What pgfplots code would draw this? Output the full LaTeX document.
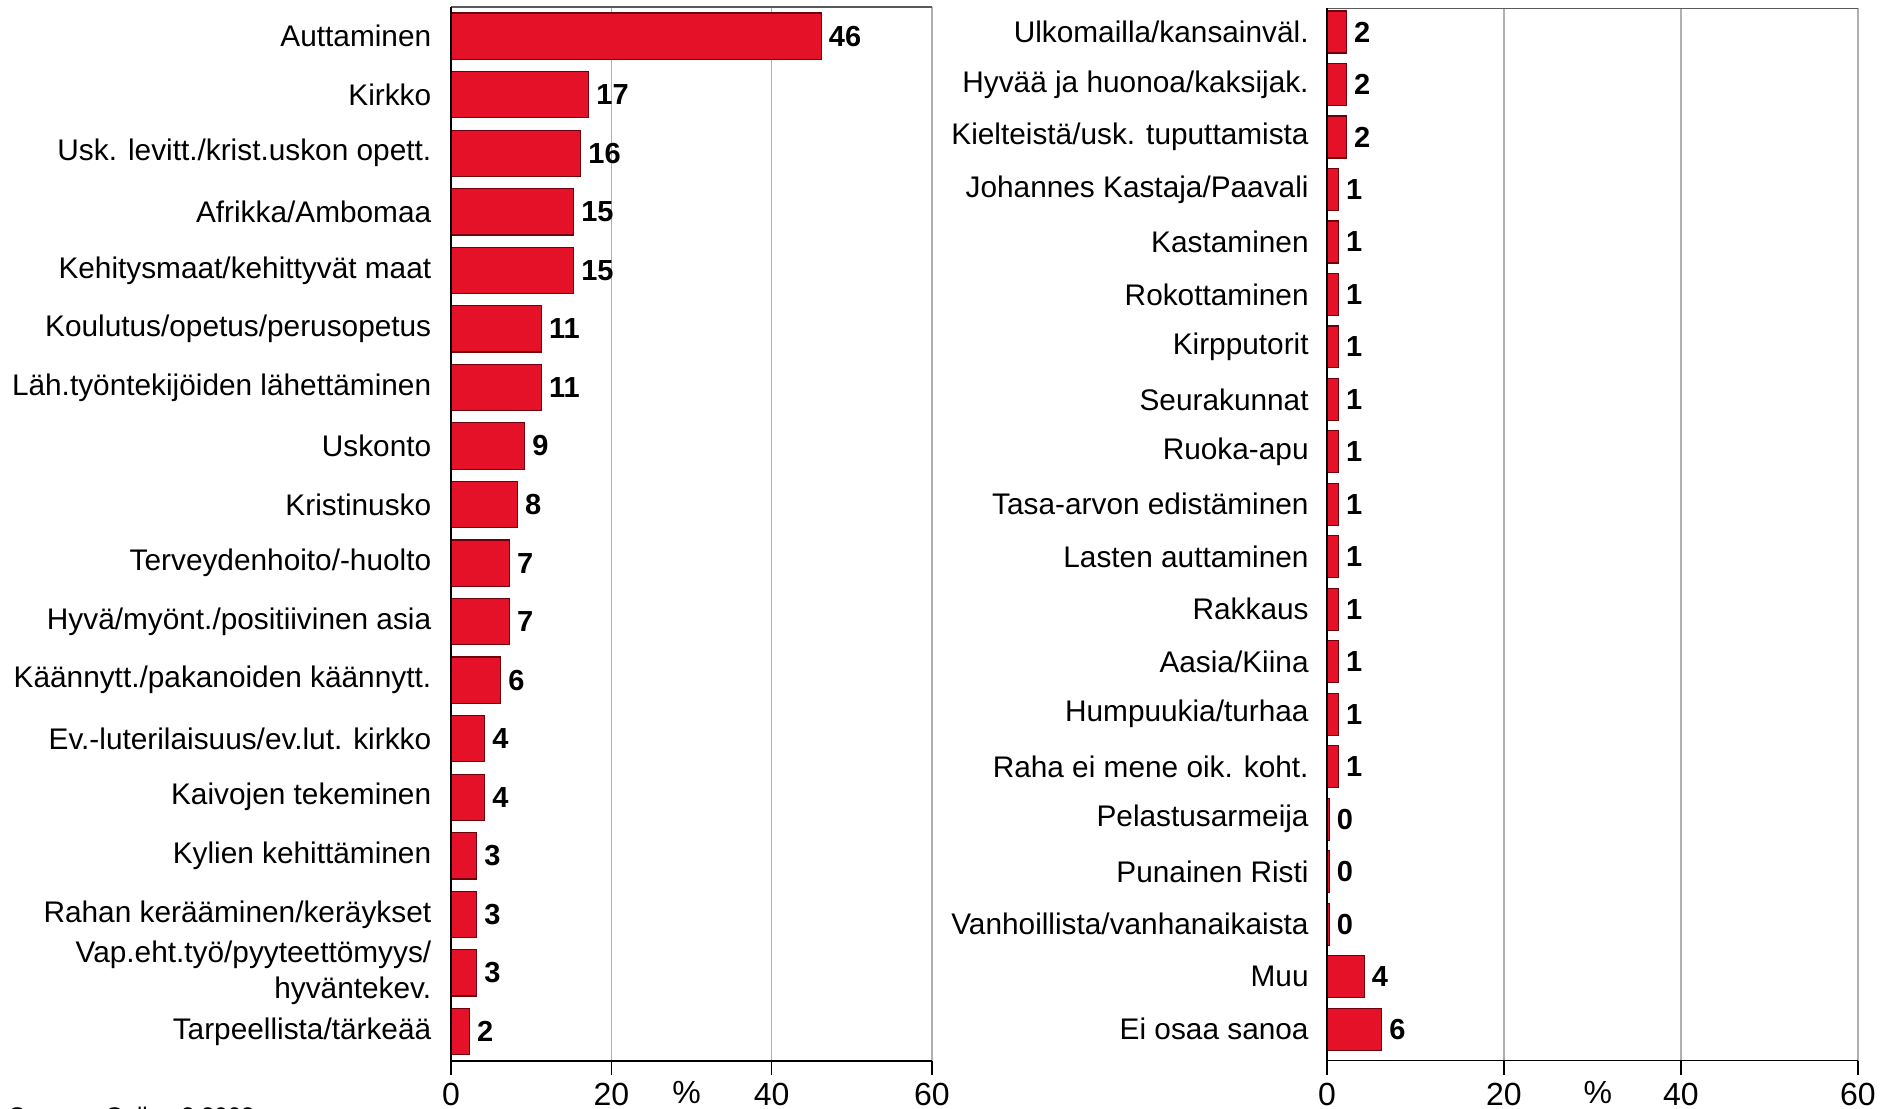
\documentclass[border=0pt]{standalone}
\usepackage{fontspec}
\setmainfont{Liberation Sans}
\usepackage{pgfplots}
\usepackage{pgfplotstable}
\pgfplotsset{compat=1.18}
\definecolor{barred}{RGB}{228,17,40}
\definecolor{bardark}{RGB}{110,0,12}
\definecolor{gridgray}{RGB}{175,175,175}
\definecolor{topgray}{RGB}{90,90,90}

\pgfplotstableread{
y x lab
0 46.2 46
1 17.2 17
2 16.2 16
3 15.3 15
4 15.3 15
5 11.3 11
6 11.3 11
7 9.2 9
8 8.3 8
9 7.3 7
10 7.3 7
11 6.2 6
12 4.2 4
13 4.2 4
14 3.2 3
15 3.2 3
16 3.2 3
17 2.3 2
}\lefttab

\pgfplotstableread{
y x lab
0 2.2 2
1 2.2 2
2 2.2 2
3 1.3 1
4 1.3 1
5 1.3 1
6 1.3 1
7 1.3 1
8 1.3 1
9 1.3 1
10 1.3 1
11 1.3 1
12 1.3 1
13 1.3 1
14 1.3 1
15 0.25 0
16 0.25 0
17 0.25 0
18 4.2 4
19 6.2 6
}\righttab

\pgfplotsset{
 mybars/.style={
  xbar, scale only axis, y dir=reverse,
  xmin=0, xmax=60, xtick={0,20,40,60},
  axis line style={draw=none},
  xmajorgrids, grid style={gridgray, line width=0.8pt},
  tick align=outside, xtick pos=lower, major tick length=7pt,
  xtick style={black, line width=0.8pt},
  ytick=data, ytick style={draw=none},
  yticklabel style={font=\fontsize{14.9}{17.8}\selectfont, align=right, inner sep=0pt},
  xticklabel style={font=\fontsize{16}{18}\selectfont, yshift=-0.7pt},
  /pgf/number format/assume math mode=true,
  nodes near coords={\pgfplotspointmeta}, point meta=explicit symbolic,
  nodes near coords style={font=\bfseries\fontsize{14.5}{17}\selectfont, anchor=west, inner sep=0pt, xshift=3.5pt, black},
  clip=false,
  xlabel={\%},
  xlabel style={font=\fontsize{16}{18}\selectfont, anchor=north, yshift=-6.8pt},
 }
}

\begin{document}
\begin{tikzpicture}
\begin{axis}[mybars,
  at={(225.5pt,24.15pt)}, anchor=south west,
  width=240.5pt, height=526.9pt,
  ymin=-0.5, ymax=17.5, bar width=0.79,
  yticklabel style={xshift=-2.7pt},
  xlabel style={at={(axis description cs:0.49,0)}},
  yticklabels={Auttaminen, Kirkko, {Usk. levitt./krist.uskon opett.}, Afrikka/Ambomaa, Kehitysmaat/kehittyvät maat, Koulutus/opetus/perusopetus, Läh.työntekijöiden lähettäminen, Uskonto, Kristinusko, Terveydenhoito/-huolto, Hyvä/myönt./positiivinen asia, Käännytt./pakanoiden käännytt., {Ev.-luterilaisuus/ev.lut. kirkko}, Kaivojen tekeminen, Kylien kehittäminen, Rahan kerääminen/keräykset, {Vap.eht.työ/pyyteettömyys/\\hyväntekev.}, Tarpeellista/tärkeää},
]
\addplot[fill=barred, draw=bardark, line width=0.6pt] table[x=x, y=y, meta=lab] {\lefttab};
\draw[topgray, line width=0.8pt] (axis description cs:0,1) -- (axis description cs:1,1);
\draw[black, line width=0.8pt] (axis description cs:0,1) -- (axis description cs:0,0) -- (axis description cs:1,0);
\end{axis}

\begin{axis}[mybars,
  at={(663.5pt,24.2pt)}, anchor=south west,
  width=265.5pt, height=526.1pt,
  ymin=-0.45, ymax=19.6, bar width=0.8,
  yticklabel style={xshift=-2pt},
  xlabel style={at={(axis description cs:0.51,0)}},
  yticklabels={Ulkomailla/kansainväl., Hyvää ja huonoa/kaksijak., Kielteistä/usk. tuputtamista, Johannes Kastaja/Paavali, Kastaminen, Rokottaminen, Kirpputorit, Seurakunnat, Ruoka-apu, Tasa-arvon edistäminen, Lasten auttaminen, Rakkaus, Aasia/Kiina, Humpuukia/turhaa, Raha ei mene oik. koht., Pelastusarmeija, Punainen Risti, Vanhoillista/vanhanaikaista, Muu, Ei osaa sanoa},
]
\addplot[fill=barred, draw=bardark, line width=0.6pt] table[x=x, y=y, meta=lab] {\righttab};
\draw[topgray, line width=0.8pt] (axis description cs:0,1) -- (axis description cs:1,1);
\draw[black, line width=0.8pt] (axis description cs:0,1) -- (axis description cs:0,0) -- (axis description cs:1,0);
\end{axis}

\node[anchor=base west, font=\fontsize{12}{14}\selectfont] at (1pt,-7.8pt) {Suomen Gallup 2.2003};
\pgfresetboundingbox
\useasboundingbox (0,0) rectangle (946pt,554.5pt);
\end{tikzpicture}
\end{document}
